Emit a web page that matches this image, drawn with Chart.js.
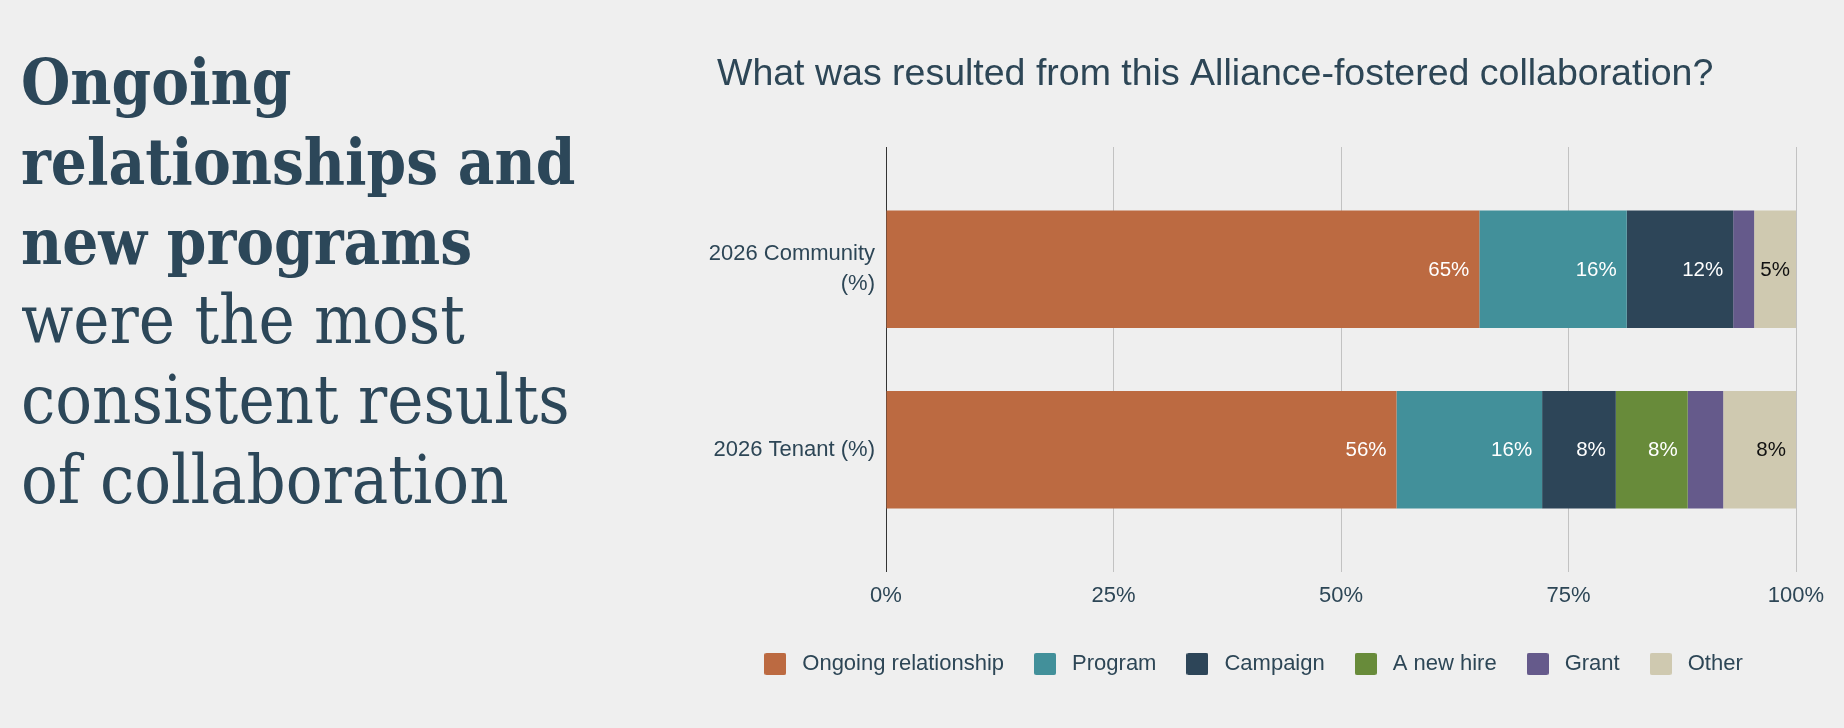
<!DOCTYPE html>
<html>
<head>
<meta charset="utf-8">
<script src="https://cdn.jsdelivr.net/npm/chart.js@4.4.1/dist/chart.umd.min.js"></script>
<style>
  html, body { margin: 0; padding: 0; background: #efefef; }
  body { width: 1844px; height: 728px; position: relative; overflow: hidden; }
  #headline {
    position: absolute; left: 21px; top: 42px; width: 660px;
    color: #2c4759;
    font-family: "DejaVu Serif Condensed", "DejaVu Serif", serif;
    font-stretch: condensed;
  }
  #headline div { height: 80px; line-height: 80px; white-space: nowrap; }
  #headline .strong { font-size: 63px; font-weight: bold; }
  #headline .plain { font-size: 68px; position: relative; top: -2px; }
  #wrap { position: absolute; left: 690px; top: 0; width: 1154px; height: 728px; }
</style>
</head>
<body>
<div id="headline">
  <div class="strong">Ongoing</div>
  <div class="strong">relationships and</div>
  <div class="strong">new programs</div>
  <div class="plain">were the most</div>
  <div class="plain">consistent results</div>
  <div class="plain">of collaboration</div>
</div>
<div id="wrap"><canvas id="chart" width="1154" height="728"></canvas></div>
<script>
// data
const categories = [['2026 Community', '(%)'], '2026 Tenant (%)'];
const seriesNames = ['Ongoing relationship', 'Program', 'Campaign', 'A new hire', 'Grant', 'Other'];
const ongoing = [65.2, 56.1];
const program = [16.2, 16.0];
const campaign = [11.7, 8.1];
const newHire = [0, 7.9];
const grant = [2.3, 3.9];
const other = [4.6, 8.0];
const xTickValues = [0, 25, 50, 75, 100];

const colors = ['#bc6a41', '#42909a', '#2d4558', '#688b3a', '#655a8b', '#cfc9b0'];
const labelColors = ['#ffffff', '#ffffff', '#ffffff', '#ffffff', '#ffffff', '#111111'];
const textColor = '#2d4656';
const series = [ongoing, program, campaign, newHire, grant, other];
const sans = 'Liberation Sans, Arial, sans-serif';

function swatch(color) {
    const c = document.createElement('canvas');
    c.width = 22;
    c.height = 22;
    const g = c.getContext('2d');
    g.fillStyle = color;
    g.beginPath();
    g.roundRect(0, 0, 22, 22, 2);
    g.fill();
    return c;
}

function gridColor(ctx) {
    return ctx.tick && ctx.tick.value === 0 ? '#333333' : '#c2c2c2';
}

// percentage labels at the right end of each segment
const barLabels = {
    id: 'barLabels',
    afterDatasetsDraw(chart) {
        const ctx = chart.ctx;
        ctx.save();
        ctx.font = '20.5px ' + sans;
        ctx.textAlign = 'right';
        ctx.textBaseline = 'middle';
        chart.data.datasets.forEach((ds, i) => {
            const meta = chart.getDatasetMeta(i);
            meta.data.forEach((bar, j) => {
                const v = ds.data[j];
                if (v < 4.5) return;
                const text = Math.round(v) + '%';
                const w = Math.abs(bar.x - bar.base);
                const tw = ctx.measureText(text).width;
                const pad = Math.min(10, (w - tw) / 2);
                ctx.fillStyle = labelColors[i];
                ctx.fillText(text, bar.x - pad, bar.y + 1);
            });
        });
        ctx.restore();
    }
};

// title sits a little right of the axis labels, legend a touch right of centre
const nudge = {
    id: 'nudge',
    afterLayout(chart) {
        chart.titleBlock.left += 17;
        chart.legend.left += 3;
        chart.legend.right += 3;
    }
};

const ctx = document.getElementById('chart').getContext('2d');
new Chart(ctx, {
    type: 'bar',
    data: {
        labels: categories,
        datasets: series.map((values, i) => ({
            label: seriesNames[i],
            data: values,
            backgroundColor: colors[i],
            borderWidth: 0,
            barPercentage: 0.65,
            categoryPercentage: 1
        }))
    },
    options: {
        indexAxis: 'y',
        responsive: false,
        animation: false,
        layout: {
            autoPadding: false,
            padding: { left: 10, right: 48, top: 0, bottom: 43 }
        },
        scales: {
            x: {
                stacked: true,
                min: 0,
                max: 100,
                afterBuildTicks: (scale) => { scale.ticks = xTickValues.map(v => ({ value: v })); },
                afterFit: (scale) => { scale.height = 88; },
                ticks: {
                    padding: 11,
                    color: textColor,
                    font: { family: sans, size: 22 },
                    callback: v => v + '%'
                },
                grid: { color: gridColor, tickColor: gridColor, tickLength: 32, drawTicks: true },
                border: { display: false }
            },
            x2: {
                position: 'top',
                type: 'linear',
                min: 0,
                max: 100,
                afterBuildTicks: (scale) => { scale.ticks = xTickValues.map(v => ({ value: v })); },
                ticks: { display: false },
                grid: { drawOnChartArea: false, color: gridColor, tickColor: gridColor, tickLength: 32 },
                border: { display: false }
            },
            y: {
                stacked: true,
                afterFit: (scale) => { scale.width = 186; },
                ticks: {
                    padding: 11,
                    color: textColor,
                    font: { family: sans, size: 22, lineHeight: 1.36 }
                },
                grid: { display: false, drawTicks: false },
                border: { display: true, color: '#333333', width: 1 }
            }
        },
        plugins: {
            title: {
                display: true,
                text: 'What was resulted from this Alliance-fostered collaboration?',
                align: 'start',
                color: textColor,
                font: { family: sans, size: 37.5, weight: 'normal' },
                padding: { top: 52, bottom: 50 }
            },
            legend: {
                position: 'bottom',
                labels: {
                    usePointStyle: true,
                    pointStyleWidth: 32,
                    padding: 25,
                    color: textColor,
                    font: { family: sans, size: 22 },
                    generateLabels: (chart) => Chart.defaults.plugins.legend.labels.generateLabels(chart)
                        .map(item => Object.assign(item, { pointStyle: swatch(colors[item.datasetIndex]) }))
                }
            },
            tooltip: { enabled: false }
        }
    },
    plugins: [barLabels, nudge]
});
</script>
</body>
</html>
